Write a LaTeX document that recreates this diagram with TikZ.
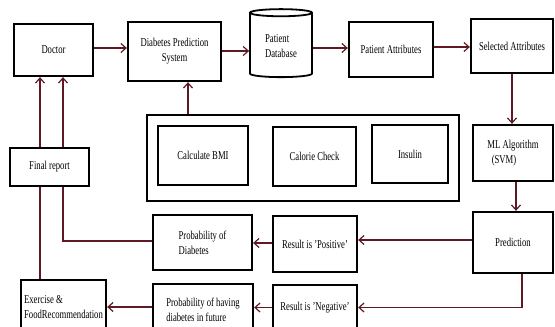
\documentclass[tikz,border=0pt]{standalone}
\usepackage{fontspec}
\setmainfont{Liberation Serif}[FakeStretch=0.72]
\usepackage{tikz}
\usetikzlibrary{shapes.geometric,arrows.meta,calc,positioning}
\definecolor{linkred}{RGB}{95,25,35}

\begin{document}
\begin{tikzpicture}[x=1pt, y=-1pt, font=\fontsize{12}{15}\selectfont,
    >={Straight Barb[length=5pt,width=9pt]}]
   \useasboundingbox (0,0) rectangle (555,327);
   \clip (0,0) rectangle (555,327);
   \begin{scope}[every node/.style={draw,line width=2.3pt,align=center,inner sep=2pt}]
    \node (doc) [minimum width=79, minimum height=52] at (53.5,50) {Doctor};
    \node (dps) [minimum width=93, minimum height=59] at (174.5,51.5) {Diabetes Prediction\\System};
    \node (db) [cylinder, shape border rotate=90, aspect=0.2, line width=1.8pt, align=left,
       minimum width=62, minimum height=68] at (281,46) {Patient\\Database};
    \node (pa) [minimum width=84, minimum height=55] at (391,49.5) {Patient Attributes};
    \node (sa) [minimum width=82, minimum height=54] at (512,46) {Selected Attributes};
    \node (ml) [minimum width=80, minimum height=56, align=left] at (513,153) {ML Algorithm\\\ \ (SVM)};
    \node (pred) [minimum width=80, minimum height=61] at (513,242.5) {Prediction};
    \node (calc) [minimum width=312, minimum height=86, line width=1.8pt] at (303,158) {};
    \node (bmi) [minimum width=90, minimum height=59] at (203,155.5) {Calculate BMI};
    \node (cal) [minimum width=83, minimum height=59] at (314.5,156.5) {Calorie Check};
    \node (ins) [minimum width=76, minimum height=58] at (410,154) {Insulin};
    \node (fin) [minimum width=79, minimum height=38] at (49.5,167) {Final report};
    \node (pdia) [minimum width=99, minimum height=55, align=left] at (202.5,242.5) {Probability of\\Diabetes};
    \node (rpos) [minimum width=84, minimum height=56] at (315,244) {Result is 'Positive'};
    \node (rneg) [minimum width=84, minimum height=45] at (315,307.5) {Result is 'Negative'};
    \node (pfut) [minimum width=100, minimum height=52, align=left] at (203,310) {Probability of having\\diabetes in future};
    \node (exe) [minimum width=85, minimum height=54, align=left] at (63.5,307) {Exercise \&\\FoodRecommendation};
   \end{scope}
   \begin{scope}[draw=linkred, line width=1.2pt]
    \draw[->] (doc.east |- 0,48) -- (dps.west |- 0,48);
    \draw[->] (dps.east |- 0,51) -- (db.west |- 0,51);
    \draw[->] (db.east |- 0,48) -- (pa.west |- 0,48);
    \draw[->] (pa.east |- 0,47) -- (sa.west |- 0,47);
    \draw[->] (sa.south) -- (sa.south |- ml.north);
    \draw[->] (ml.south -| 516,0) -- (pred.north -| 516,0);
    \draw[->] (calc.north -| 188,0) -- (dps.south -| 188,0);
    \draw[->] (pred.west |- 0,240) -- (rpos.east |- 0,240);
    \draw[->] (pred.south -| 522,0) |- (rneg.east);
    \draw[->] (rpos.west |- 0,243) -- (pdia.east |- 0,243);
    \draw[->] (rneg.west) -- (pfut.east |- rneg.west);
    \draw[->] (pfut.west |- 0,307) -- (exe.east |- 0,307);
    \draw (pdia.west |- 0,241) -| (fin.south -| 63,0);
    \draw (exe.north -| 40,0) -- (fin.south -| 40,0);
    \draw[->] (fin.north -| 40,0) -- (doc.south -| 40,0);
    \draw[->] (fin.north -| 63,0) -- (doc.south -| 63,0);
   \end{scope}
\end{tikzpicture}
\end{document}
